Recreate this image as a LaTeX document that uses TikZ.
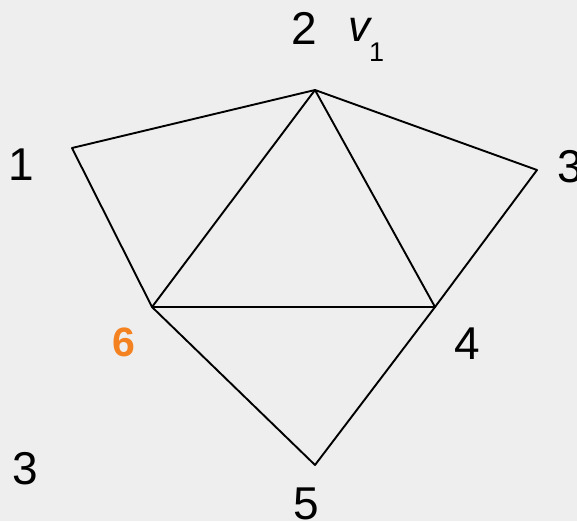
\documentclass[tikz,border=0pt]{standalone}
\usepackage{fontspec}
\setmainfont{Liberation Sans}
\definecolor{bgray}{RGB}{238,238,238}
\definecolor{lborange}{RGB}{245,130,32}
\begin{document}
\begin{tikzpicture}[x=1pt,y=-1pt,
  edge/.style={line width=1.9pt,black,line join=round},
  lbl/.style={inner sep=0pt,font=\fontsize{46}{46}\selectfont},
  lblsix/.style={inner sep=0pt,text=lborange,font=\fontsize{41}{41}\selectfont\bfseries}]
\useasboundingbox (0,0) rectangle (577,521);
\fill[bgray] (0,0) rectangle (577,521);
\begin{scope}
\clip (0,0) rectangle (577,521);
\coordinate (v2) at (315,90);
\coordinate (v1) at (72,148);
\coordinate (v3) at (537,170);
\coordinate (v6) at (152,307);
\coordinate (v4) at (435,307);
\coordinate (v5) at (315,465);
\draw[edge] (v1) -- (v2) -- (v3) -- (v4) -- (v5) -- (v6) -- cycle;
\draw[edge] (v6) -- (v2) -- (v4) -- (v6);
\node[lbl] (l1) at (21,165) {1};
\node[lbl] (l2) at (304,28) {2};
\node[inner sep=0pt,anchor=base west,font=\fontsize{44}{44}\selectfont\itshape] (lv) at (348,42) {v};
\node[inner sep=0pt,anchor=base west,font=\fontsize{27}{27}\selectfont] (lsub) at (369,62) {1};
\node[lbl] (l3r) at (570,166.5) {3};
\node[lblsix] (l6) at (124,342.5) {6};
\node[lbl] (l4) at (467,344) {4};
\node[lbl] (l3b) at (25,468.5) {3};
\node[lbl] (l5) at (306,503.5) {5};
\end{scope}
\end{tikzpicture}
\end{document}
